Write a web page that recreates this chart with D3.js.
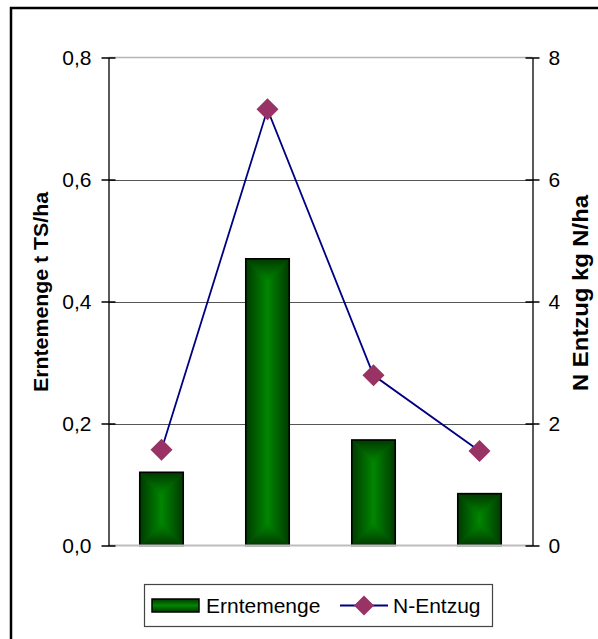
<!DOCTYPE html>
<html>
<head>
<meta charset="utf-8">
<script src="https://cdn.jsdelivr.net/npm/d3@7"></script>
<style>
  html, body { margin: 0; padding: 0; background: #fff; }
  svg { display: block; font-family: Arial, "Liberation Sans", sans-serif; }
</style>
</head>
<body>
<svg id="chart" width="598" height="639"></svg>
<script>
// Harvest yield (left axis) and nitrogen removal (right axis) per plot
const categories = ["A", "B", "C", "D"];
const erntemenge = [0.12, 0.47, 0.173, 0.085];   // t TS/ha
const nEntzug = [1.57, 7.15, 2.79, 1.55];        // kg N/ha
const leftTicks = [0, 0.2, 0.4, 0.6, 0.8];
const rightTicks = [0, 2, 4, 6, 8];
const seriesNames = ["Erntemenge", "N-Entzug"];
const axisTitles = ["Erntemenge t TS/ha", "N Entzug kg N/ha"];

const svg = d3.select("#chart");
const plot = { left: 108.5, right: 532.5, top: 57.5, bottom: 545.5 };
const fmt = d => d3.format(".1f")(d).replace(".", ",");

// Outer chart frame (runs off the right and bottom edges)
svg.append("path")
  .attr("d", "M11,650 V8 H610")
  .attr("fill", "none").attr("stroke", "#000").attr("stroke-width", 2.5);

const x = d3.scaleBand().domain(categories).range([plot.left, plot.right]).paddingInner(0).paddingOuter(0);
const yL = d3.scaleLinear().domain([0, 0.8]).range([plot.bottom, plot.top]);
const yR = d3.scaleLinear().domain([0, 8]).range([plot.bottom, plot.top]);

// Gradient definitions for the "from centre" bar fill
const defs = svg.append("defs");
const edge = "#003a00", centre = "#008600", mid = "#005e00";
function lg(id, x1, y1, x2, y2) {
  const g = defs.append("linearGradient").attr("id", id)
    .attr("x1", x1).attr("y1", y1).attr("x2", x2).attr("y2", y2);
  g.append("stop").attr("offset", "0").attr("stop-color", edge);
  g.append("stop").attr("offset", "1").attr("stop-color", centre);
}
lg("gTop", 0, 0, 0, 1);
lg("gBottom", 0, 1, 0, 0);
lg("gLeft", 0, 0, 1, 0);
lg("gRight", 1, 0, 0, 0);

// Gridlines
svg.append("g").selectAll("line").data(leftTicks.filter(t => t > 0 && t < 0.8)).join("line")
  .attr("x1", plot.left).attr("x2", plot.right)
  .attr("y1", d => Math.round(yL(d)) + 0.5).attr("y2", d => Math.round(yL(d)) + 0.5)
  .attr("stroke", "#555").attr("stroke-width", 1);
// Plot area top edge
svg.append("line").attr("x1", plot.left).attr("x2", plot.right)
  .attr("y1", plot.top).attr("y2", plot.top).attr("stroke", "#b4b4b4").attr("stroke-width", 1.5);

// Bars
const barW = x.bandwidth() * 0.41;
const bars = svg.append("g").selectAll("g").data(erntemenge).join("g")
  .attr("transform", (d, i) => `translate(${x(categories[i]) + (x.bandwidth() - barW) / 2},${yL(d)})`);
bars.each(function (d) {
  const g = d3.select(this);
  const w = barW, h = yL(0) - yL(d), cx = w / 2, cy = h / 2;
  const m = Math.min(cx, cy);
  g.append("rect").attr("width", w).attr("height", h).attr("fill", mid);
  // four trapezoids meeting along the centre line
  const pts = {
    gTop: [[0, 0], [w, 0], [w - m, m], [m, m]],
    gBottom: [[0, h], [w, h], [w - m, h - m], [m, h - m]],
    gLeft: [[0, 0], [m, m], [m, h - m], [0, h]],
    gRight: [[w, 0], [w - m, m], [w - m, h - m], [w, h]]
  };
  Object.entries(pts).forEach(([id, p]) => {
    g.append("path").attr("d", "M" + p.map(q => q.join(",")).join("L") + "Z")
      .attr("fill", `url(#${id})`);
  });
  if (h > w) {
    // tall bar: centre strip is vertical
    g.append("rect").attr("x", cx - 0.6).attr("y", m).attr("width", 1.2).attr("height", Math.max(0, h - 2 * m)).attr("fill", centre);
  }
  g.append("rect").attr("width", w).attr("height", h)
    .attr("fill", "none").attr("stroke", "#000").attr("stroke-width", 1.6);
});

svg.append("line").attr("x1", plot.left).attr("x2", plot.right)
  .attr("y1", plot.bottom).attr("y2", plot.bottom).attr("stroke", "#bdbdbd").attr("stroke-width", 2);

// Left axis
const axL = svg.append("g").attr("transform", `translate(${plot.left},0)`)
  .call(d3.axisLeft(yL).tickValues(leftTicks).tickFormat(fmt).tickSize(0).tickPadding(17));
axL.select(".domain").attr("stroke", "#222").attr("stroke-width", 1.5);
axL.selectAll(".tick").append("line").attr("x1", -7).attr("x2", 7).attr("stroke", "#000").attr("stroke-width", 1.5);
axL.selectAll("text").attr("font-size", 21).attr("fill", "#000").attr("font-family", "Arial, 'Liberation Sans', sans-serif");

// Right axis
const axR = svg.append("g").attr("transform", `translate(${plot.right},0)`)
  .call(d3.axisRight(yR).tickValues(rightTicks).tickFormat(d3.format("d")).tickSize(0).tickPadding(16));
axR.select(".domain").attr("stroke", "#222").attr("stroke-width", 1.5);
axR.selectAll(".tick").append("line").attr("x1", -7).attr("x2", 7).attr("stroke", "#000").attr("stroke-width", 1.5);
axR.selectAll("text").attr("font-size", 21).attr("fill", "#000").attr("font-family", "Arial, 'Liberation Sans', sans-serif");

// Line series on the right axis
const cx = (d, i) => x(categories[i]) + x.bandwidth() / 2;
svg.append("path").datum(nEntzug)
  .attr("d", d3.line().x(cx).y(d => yR(d)))
  .attr("fill", "none").attr("stroke", "#000080").attr("stroke-width", 1.8);
const diamond = s => `M0,${-s}L${s},0L0,${s}L${-s},0Z`;
svg.append("g").selectAll("path").data(nEntzug).join("path")
  .attr("transform", (d, i) => `translate(${cx(d, i)},${yR(d)})`)
  .attr("d", diamond(11)).attr("fill", "#993366");

// Axis titles
svg.append("text").attr("transform", "translate(48,292) rotate(-90)")
  .attr("text-anchor", "middle").attr("font-weight", "bold").attr("font-size", 21)
  .attr("textLength", 200).attr("lengthAdjust", "spacingAndGlyphs")
  .text(axisTitles[0]);
svg.append("text").attr("transform", "translate(588,293) rotate(-90)")
  .attr("text-anchor", "middle").attr("font-weight", "bold").attr("font-size", 22)
  .attr("textLength", 196).attr("lengthAdjust", "spacingAndGlyphs")
  .text(axisTitles[1]);

// Legend
const lgd = svg.append("g");
lgd.append("rect").attr("x", 144.5).attr("y", 584.5).attr("width", 348).attr("height", 42)
  .attr("fill", "#fff").attr("stroke", "#444").attr("stroke-width", 1.2);
const sw = lgd.append("g").attr("transform", "translate(152,599)");
const swW = 47, swH = 13;
const swGrad = defs.append("linearGradient").attr("id", "gSwatch").attr("x1", 0).attr("y1", 0).attr("x2", 0).attr("y2", 1);
swGrad.append("stop").attr("offset", 0).attr("stop-color", edge);
swGrad.append("stop").attr("offset", 0.5).attr("stop-color", centre);
swGrad.append("stop").attr("offset", 1).attr("stop-color", edge);
sw.append("rect").attr("width", swW).attr("height", swH).attr("fill", "url(#gSwatch)")
  .attr("stroke", "#000").attr("stroke-width", 1.5);
lgd.append("text").attr("x", 206).attr("y", 606).attr("dy", "0.35em")
  .attr("font-size", 21).text(seriesNames[0]);
lgd.append("line").attr("x1", 340).attr("x2", 388).attr("y1", 605.5).attr("y2", 605.5)
  .attr("stroke", "#000080").attr("stroke-width", 1.8);
lgd.append("path").attr("transform", "translate(364,605.5)").attr("d", diamond(10)).attr("fill", "#993366");
lgd.append("text").attr("x", 393).attr("y", 606).attr("dy", "0.35em")
  .attr("font-size", 21).text(seriesNames[1]);
</script>
</body>
</html>
